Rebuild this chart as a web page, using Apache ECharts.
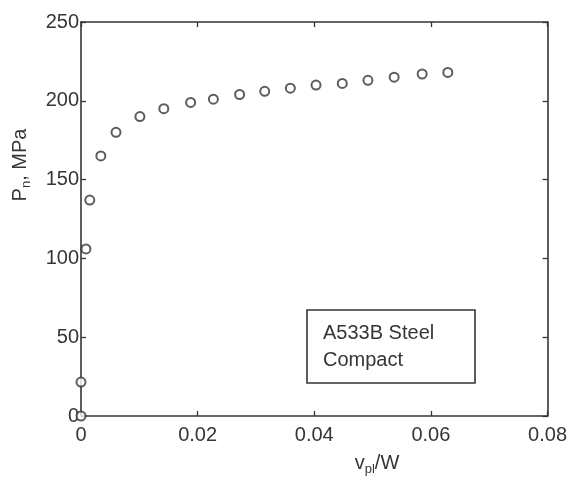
<!DOCTYPE html>
<html>
<head>
<meta charset="utf-8">
<script src="https://cdn.jsdelivr.net/npm/echarts@6/dist/echarts.min.js"></script>
<style>html,body{margin:0;padding:0;background:#fff;}#c{width:570px;height:477px;}</style>
</head>
<body>
<div id="c"></div>
<script>
// Data: v_pl/W (x) vs P_n in MPa (y)
const xValues = [0, 0, 0.00085, 0.0015, 0.0034, 0.006, 0.0101, 0.0142, 0.0188, 0.0227, 0.0272, 0.0315, 0.0359, 0.0403, 0.0448, 0.0492, 0.0537, 0.0585, 0.0629];
const yValues = [0, 21.5, 106, 137, 165, 180, 190, 195, 199, 201, 204, 206, 208, 210, 211, 213, 215, 217, 218];
const xTicks = [0, 0.02, 0.04, 0.06, 0.08];
const yTicks = [0, 50, 100, 150, 200, 250];
const boxLines = ['A533B Steel', 'Compact'];

const font = '"Liberation Sans", Arial, sans-serif';
const ink = '#353535';
const chart = echarts.init(document.getElementById('c'), null, {renderer: 'canvas'});
const pts = xValues.map((x, i) => [x, yValues[i]]);

const axisCommon = {
  axisLine: {show: true, onZero: false, lineStyle: {color: ink, width: 1.6}},
  axisTick: {show: true, inside: true, length: 5, lineStyle: {color: ink, width: 1.3}},
  splitLine: {show: false}
};

chart.setOption({
  animation: false,
  backgroundColor: '#ffffff',
  grid: {left: 81, right: 21, top: 22, bottom: 61, containLabel: false},
  xAxis: [
    Object.assign({}, axisCommon, {
      type: 'value', min: xTicks[0], max: xTicks[xTicks.length - 1], interval: 0.02, position: 'bottom',
      axisLabel: {color: ink, fontSize: 20, fontFamily: font, margin: 9,
        formatter: v => (v === 0 ? '0' : v.toFixed(2))}
    }),
    Object.assign({}, axisCommon, {
      type: 'value', min: xTicks[0], max: xTicks[xTicks.length - 1], interval: 0.02, position: 'top',
      axisLabel: {show: false}
    })
  ],
  yAxis: [
    Object.assign({}, axisCommon, {
      type: 'value', min: yTicks[0], max: yTicks[yTicks.length - 1], interval: 50, position: 'left',
      axisLabel: {color: ink, fontSize: 20, fontFamily: font, margin: 2}
    }),
    Object.assign({}, axisCommon, {
      type: 'value', min: yTicks[0], max: yTicks[yTicks.length - 1], interval: 50, position: 'right',
      axisLabel: {show: false}
    })
  ],
  series: [{
    type: 'scatter',
    xAxisIndex: 0, yAxisIndex: 0,
    data: pts,
    symbol: 'circle',
    symbolSize: 9,
    itemStyle: {color: '#ffffff', borderColor: ink, borderWidth: 2},
    clip: false
  }],
  graphic: [
    {
      type: 'text', x: 20, y: 165, rotation: Math.PI / 2,
      style: {
        rich: {
          m: {fontSize: 20, fontFamily: font, fill: ink},
          s: {fontSize: 13, fontFamily: font, fill: ink, padding: [12, 0, 0, 0]}
        },
        text: '{m|P}{s|n}{m|, MPa}',
        align: 'center', verticalAlign: 'middle'
      }
    },
    {
      type: 'text', x: 377, y: 463,
      style: {
        rich: {
          m: {fontSize: 20, fontFamily: font, fill: ink},
          s: {fontSize: 13, fontFamily: font, fill: ink, padding: [12, 0, 0, 0]}
        },
        text: '{m|v}{s|pl}{m|/W}',
        align: 'center', verticalAlign: 'middle'
      }
    },
    {
      type: 'rect', shape: {x: 307, y: 310, width: 168, height: 73},
      style: {fill: '#ffffff', stroke: ink, lineWidth: 1.6}
    },
    {
      type: 'text', x: 323, y: 320,
      style: {
        text: boxLines.join('\n'), fontSize: 20, fontFamily: font, fill: ink,
        lineHeight: 27, align: 'left', verticalAlign: 'top'
      }
    }
  ]
});
</script>
</body>
</html>
